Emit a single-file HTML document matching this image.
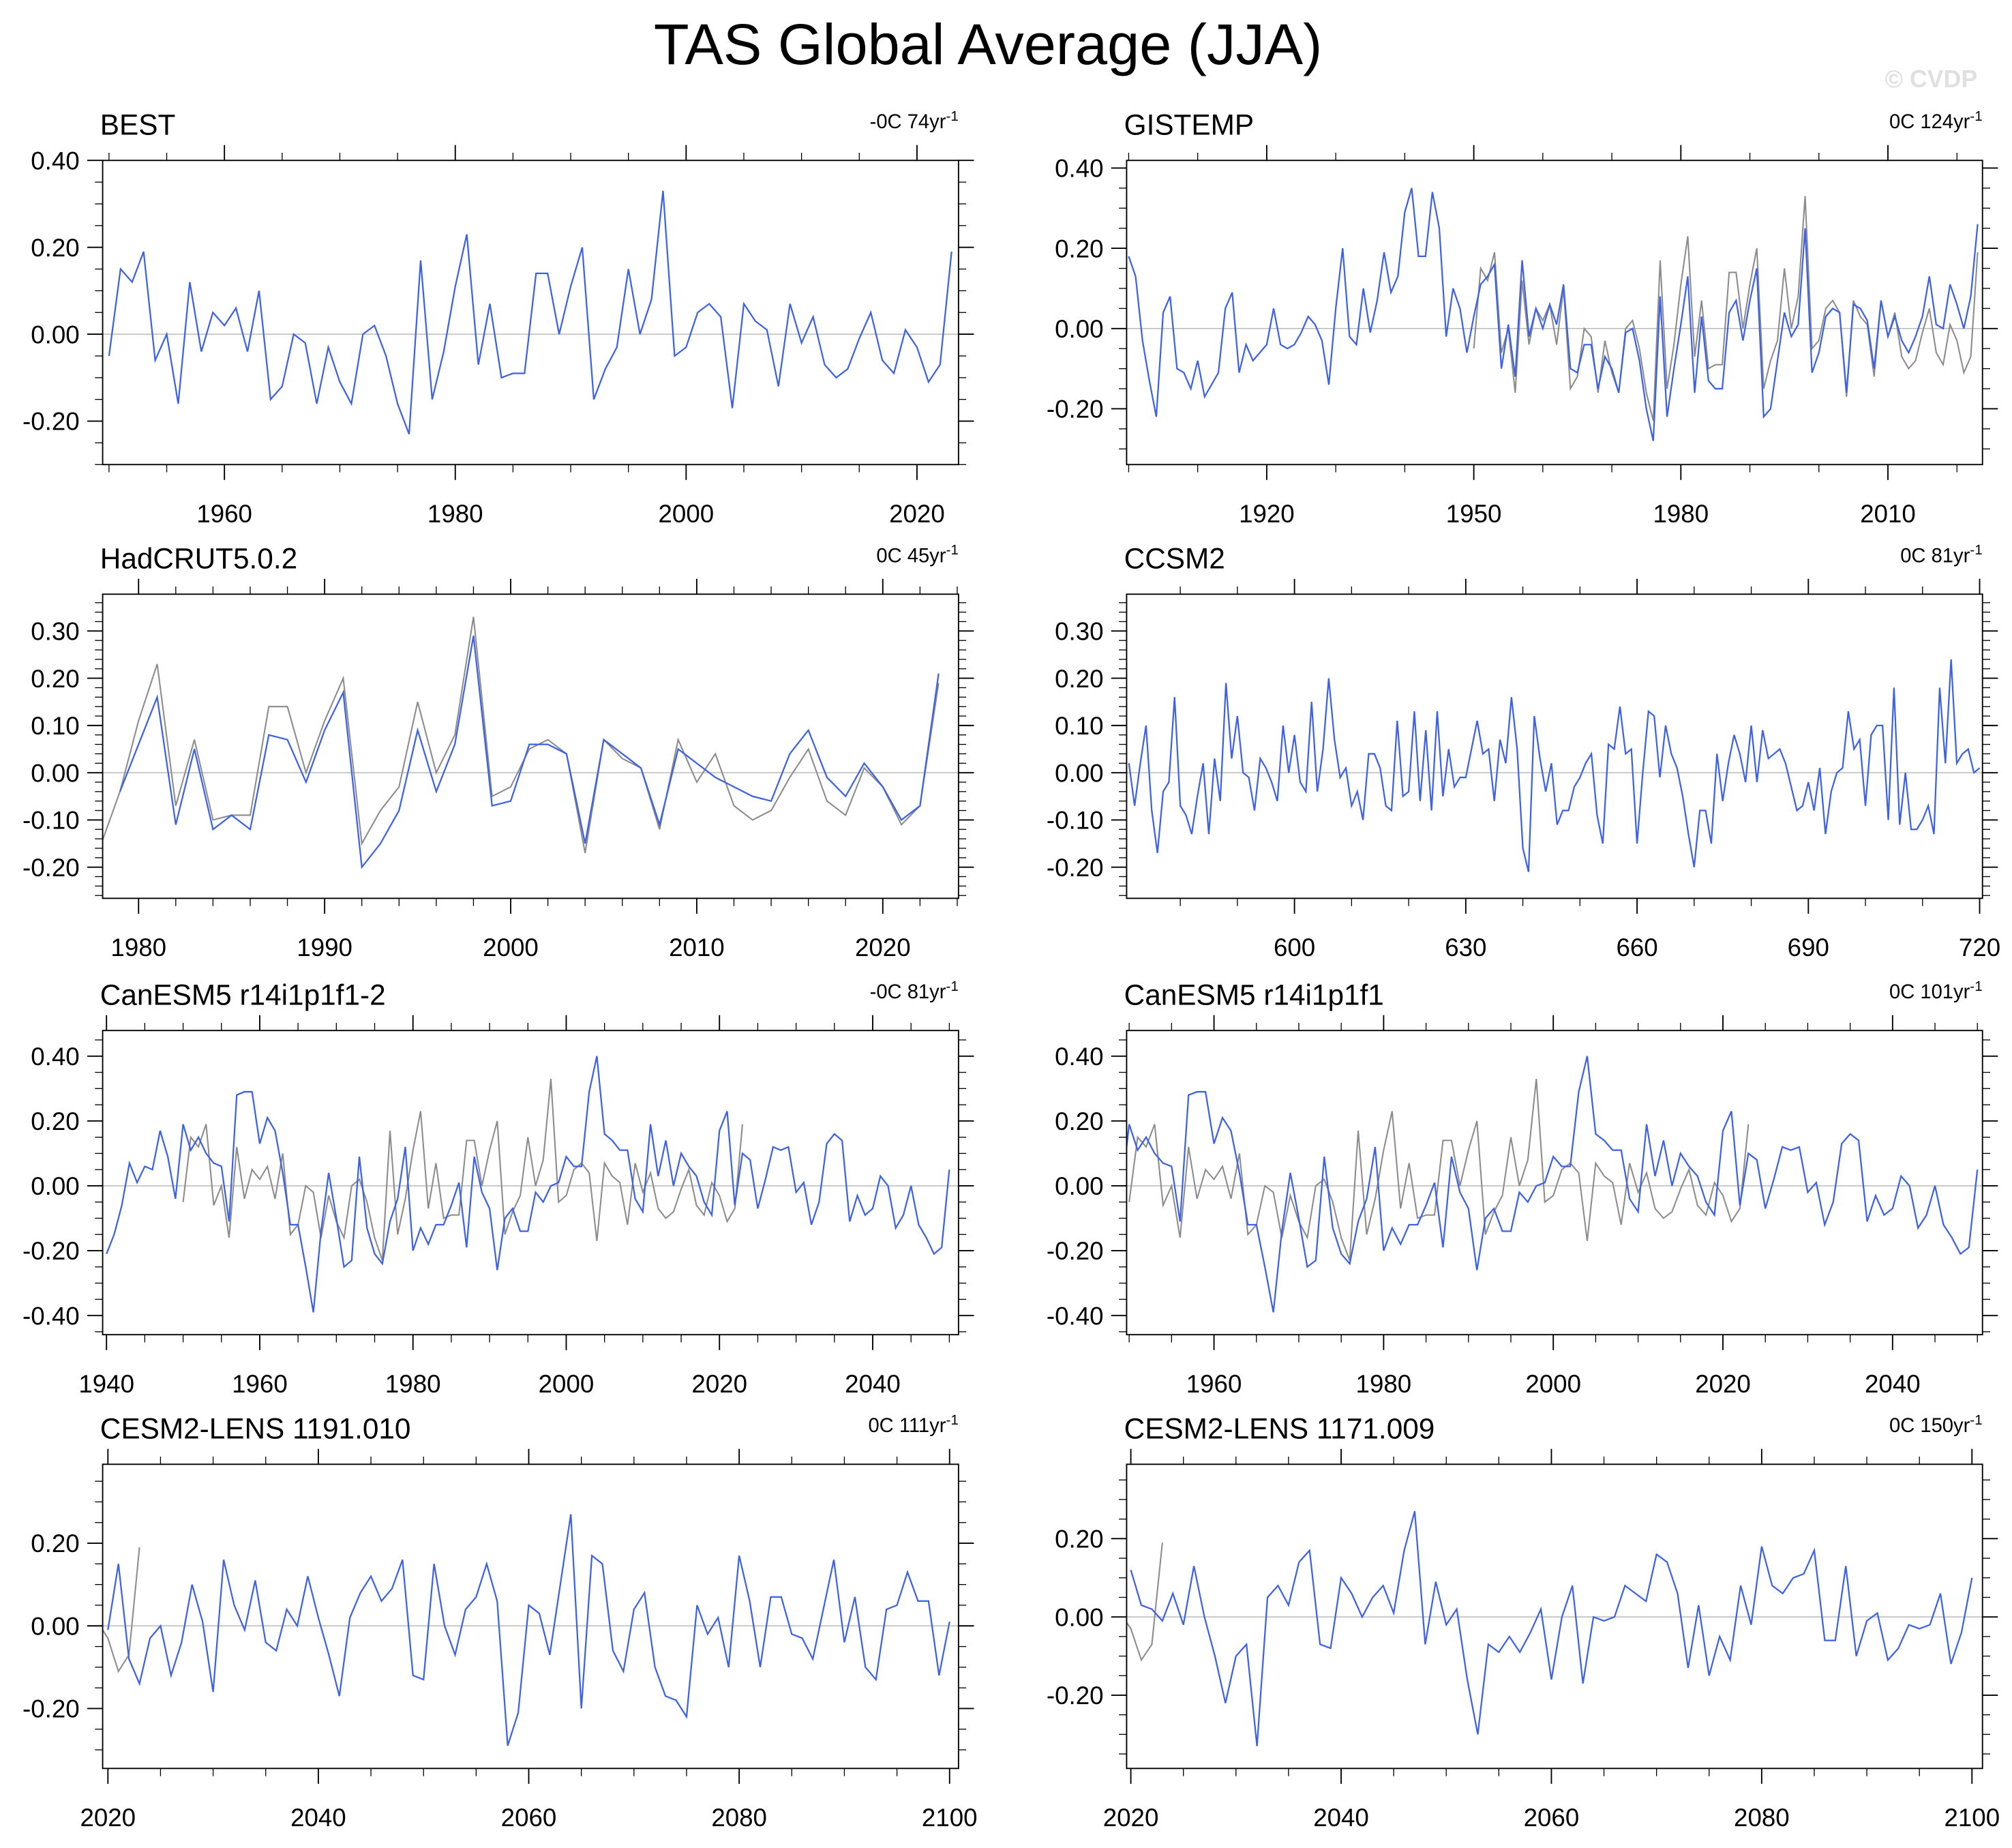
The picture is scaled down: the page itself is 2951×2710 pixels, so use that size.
<!DOCTYPE html>
<html><head><meta charset="utf-8"><style>
html,body{margin:0;padding:0;background:#fff;}
svg{display:block;font-family:"Liberation Sans",sans-serif;}
</style></head><body>
<svg id="chart" width="2951" height="2710" viewBox="0 0 1568 1440" preserveAspectRatio="none" xmlns="http://www.w3.org/2000/svg">
<rect x="0" y="0" width="1568" height="1440" fill="#fff"/>
<text x="770" y="50" font-size="45" text-anchor="middle">TAS Global Average (JJA)</text>
<text x="1541" y="68" font-size="19" font-weight="bold" fill="#e0e0e0" text-anchor="end">© CVDP</text>
<g id="panels"></g>
</svg>
<script>
// ---- data ----
const bestStart = 1950;
const bestValues = [-0.05,0.15,0.12,0.19,-0.06,0.00,-0.16,0.12,-0.04,0.05,0.02,0.06,-0.04,0.10,-0.15,-0.12,0.00,-0.02,-0.16,-0.03,-0.11,-0.16,0.00,0.02,-0.05,-0.16,-0.23,0.17,-0.15,-0.04,0.11,0.23,-0.07,0.07,-0.10,-0.09,-0.09,0.14,0.14,0.00,0.11,0.20,-0.15,-0.08,-0.03,0.15,0.00,0.08,0.33,-0.05,-0.03,0.05,0.07,0.04,-0.17,0.07,0.03,0.01,-0.12,0.07,-0.02,0.04,-0.07,-0.10,-0.08,-0.01,0.05,-0.06,-0.09,0.01,-0.03,-0.11,-0.07,0.19];
const gisStart = 1900;
const gisValues = [0.18,0.13,-0.03,-0.13,-0.22,0.04,0.08,-0.10,-0.11,-0.15,-0.08,-0.17,-0.14,-0.11,0.05,0.09,-0.11,-0.04,-0.08,-0.06,-0.04,0.05,-0.04,-0.05,-0.04,-0.01,0.03,0.01,-0.03,-0.14,0.05,0.20,-0.02,-0.04,0.10,-0.01,0.07,0.19,0.09,0.13,0.29,0.35,0.18,0.18,0.34,0.25,-0.02,0.10,0.05,-0.06,0.03,0.11,0.13,0.16,-0.10,0.01,-0.12,0.17,-0.02,0.05,0.00,0.06,0.01,0.11,-0.10,-0.11,-0.04,-0.04,-0.15,-0.07,-0.10,-0.16,-0.01,0.00,-0.08,-0.20,-0.28,0.08,-0.22,-0.10,0.01,0.13,-0.16,0.03,-0.13,-0.15,-0.15,0.04,0.07,-0.03,0.07,0.15,-0.22,-0.20,-0.08,0.04,-0.02,0.01,0.25,-0.11,-0.06,0.03,0.05,0.04,-0.16,0.06,0.05,0.02,-0.10,0.07,-0.02,0.03,-0.03,-0.06,-0.02,0.03,0.13,0.01,0.00,0.11,0.06,0.00,0.08,0.26];
const hadStart = 1979;
const hadValues = [-0.04,0.06,0.16,-0.11,0.05,-0.12,-0.09,-0.12,0.08,0.07,-0.02,0.09,0.17,-0.20,-0.15,-0.08,0.09,-0.04,0.06,0.29,-0.07,-0.06,0.06,0.06,0.04,-0.15,0.07,0.04,0.01,-0.11,0.05,0.02,-0.01,-0.03,-0.05,-0.06,0.04,0.09,-0.01,-0.05,0.02,-0.03,-0.10,-0.07,0.21];
const ccsmStart = 571;
const ccsmValues = [0.02,-0.07,0.02,0.10,-0.08,-0.17,-0.04,-0.02,0.16,-0.07,-0.09,-0.13,-0.05,0.02,-0.13,0.03,-0.06,0.19,0.03,0.12,0.00,-0.01,-0.08,0.03,0.01,-0.02,-0.06,0.10,0.00,0.08,-0.02,-0.04,0.15,-0.04,0.05,0.20,0.07,-0.01,0.01,-0.07,-0.04,-0.10,0.04,0.04,0.01,-0.07,-0.08,0.11,-0.05,-0.04,0.13,-0.06,0.09,-0.08,0.13,-0.05,0.05,-0.03,-0.01,-0.01,0.05,0.11,0.04,0.05,-0.06,0.07,0.02,0.16,0.05,-0.16,-0.21,0.12,0.03,-0.04,0.02,-0.11,-0.08,-0.08,-0.03,-0.01,0.02,0.04,-0.09,-0.15,0.06,0.05,0.14,0.04,0.05,-0.15,0.00,0.13,0.12,-0.01,0.10,0.04,0.01,-0.05,-0.13,-0.20,-0.08,-0.08,-0.15,0.04,-0.06,0.02,0.08,0.04,-0.02,0.10,-0.02,0.09,0.03,0.04,0.05,0.02,-0.03,-0.08,-0.07,-0.02,-0.08,0.01,-0.13,-0.04,0.00,0.01,0.13,0.05,0.07,-0.07,0.08,0.10,0.10,-0.10,0.18,-0.11,0.00,-0.12,-0.12,-0.10,-0.07,-0.13,0.18,0.02,0.24,0.02,0.04,0.05,0.00,0.01];
const canStart = 1940;
const canValues = [-0.21,-0.15,-0.06,0.07,0.01,0.06,0.05,0.17,0.09,-0.04,0.19,0.11,0.15,0.10,0.07,0.06,-0.11,0.28,0.29,0.29,0.13,0.21,0.17,0.04,-0.12,-0.12,-0.25,-0.39,-0.14,0.04,-0.10,-0.25,-0.23,0.09,-0.13,-0.21,-0.24,-0.11,-0.04,0.12,-0.20,-0.13,-0.18,-0.12,-0.12,-0.06,0.01,-0.19,0.09,-0.02,-0.07,-0.26,-0.10,-0.07,-0.14,-0.14,-0.02,-0.05,0.00,0.01,0.09,0.06,0.06,0.29,0.40,0.16,0.14,0.11,0.11,-0.04,-0.08,0.19,0.03,0.14,0.00,0.10,0.06,0.03,-0.05,-0.09,0.17,0.23,-0.06,0.10,0.08,-0.07,0.02,0.12,0.11,0.12,-0.02,0.01,-0.12,-0.05,0.13,0.16,0.14,-0.11,-0.03,-0.09,-0.07,0.03,0.00,-0.13,-0.09,0.00,-0.12,-0.16,-0.21,-0.19,0.05];
const cesmAStart = 2020;
const cesmAValues = [-0.01,0.15,-0.08,-0.14,-0.03,0.00,-0.12,-0.04,0.10,0.01,-0.16,0.16,0.05,-0.01,0.11,-0.04,-0.06,0.04,0.00,0.12,0.02,-0.07,-0.17,0.02,0.08,0.12,0.06,0.09,0.16,-0.12,-0.13,0.15,0.00,-0.07,0.04,0.07,0.15,0.06,-0.29,-0.21,0.05,0.03,-0.07,0.10,0.27,-0.20,0.17,0.15,-0.06,-0.11,0.04,0.08,-0.10,-0.17,-0.18,-0.22,0.05,-0.02,0.02,-0.10,0.17,0.06,-0.10,0.07,0.07,-0.02,-0.03,-0.08,0.04,0.16,-0.04,0.07,-0.10,-0.13,0.04,0.05,0.13,0.06,0.06,-0.12,0.01];
const cesmBStart = 2020;
const cesmBValues = [0.12,0.03,0.02,-0.01,0.06,-0.02,0.13,0.00,-0.10,-0.22,-0.10,-0.07,-0.33,0.05,0.08,0.03,0.14,0.17,-0.07,-0.08,0.10,0.06,0.00,0.05,0.08,0.01,0.17,0.27,-0.07,0.09,-0.02,0.02,-0.16,-0.30,-0.07,-0.09,-0.05,-0.09,-0.04,0.02,-0.16,0.00,0.08,-0.17,0.00,-0.01,0.00,0.08,0.06,0.04,0.16,0.14,0.06,-0.13,0.03,-0.15,-0.05,-0.11,0.08,-0.02,0.18,0.08,0.06,0.10,0.11,0.17,-0.06,-0.06,0.13,-0.10,-0.01,0.01,-0.11,-0.08,-0.02,-0.03,-0.02,0.06,-0.12,-0.04,0.10];
const panelTitles = ["BEST","GISTEMP","HadCRUT5.0.2","CCSM2","CanESM5 r14i1p1f1-2","CanESM5 r14i1p1f1","CESM2-LENS 1191.010","CESM2-LENS 1171.009"];
const trendLabels = ["-0C 74yr","0C 124yr","0C 45yr","0C 81yr","-0C 81yr","0C 101yr","0C 111yr","0C 150yr"];

// ---- layout ----
const NS = "http://www.w3.org/2000/svg";
const root = document.getElementById('panels');
function mk(tag, attrs, parent){const e=document.createElementNS(NS,tag);for(const k in attrs)e.setAttribute(k,attrs[k]);(parent||root).appendChild(e);return e;}
const panels = [
 {bx:80,by:125,x0:1949.45,x1:2023.6,y0:-0.30,y1:0.40,xl:[1960,1980,2000,2020],xm:5,yl:[-0.2,0,0.2,0.4],ym:0.05,blue:[bestStart,bestValues],gray:false},
 {bx:878,by:125,x0:1899.7,x1:2023.7,y0:-0.339,y1:0.419,xl:[1920,1950,1980,2010],xm:10,yl:[-0.2,0,0.2,0.4],ym:0.05,blue:[gisStart,gisValues],gray:true},
 {bx:80,by:463,x0:1978.07,x1:2024.07,y0:-0.266,y1:0.378,xl:[1980,1990,2000,2010,2020],xm:2,yl:[-0.2,-0.1,0,0.1,0.2,0.3],ym:0.02,blue:[hadStart,hadValues],gray:true},
 {bx:878,by:463,x0:570.6,x1:720.5,y0:-0.266,y1:0.378,xl:[600,630,660,690,720],xm:10,yl:[-0.2,-0.1,0,0.1,0.2,0.3],ym:0.02,blue:[ccsmStart,ccsmValues],gray:false},
 {bx:80,by:803,x0:1939.5,x1:2051.2,y0:-0.459,y1:0.479,xl:[1940,1960,1980,2000,2020,2040],xm:5,yl:[-0.4,-0.2,0,0.2,0.4],ym:0.05,blue:[canStart,canValues],gray:true},
 {bx:878,by:803,x0:1949.7,x1:2050.6,y0:-0.459,y1:0.479,xl:[1960,1980,2000,2020,2040],xm:5,yl:[-0.4,-0.2,0,0.2,0.4],ym:0.05,blue:[canStart,canValues],gray:true},
 {bx:80,by:1141,x0:2019.5,x1:2100.85,y0:-0.345,y1:0.391,xl:[2020,2040,2060,2080,2100],xm:5,yl:[-0.2,0,0.2],ym:0.05,blue:[cesmAStart,cesmAValues],gray:true},
 {bx:878,by:1141,x0:2019.6,x1:2101.0,y0:-0.387,y1:0.39,xl:[2020,2040,2060,2080,2100],xm:5,yl:[-0.2,0,0.2],ym:0.05,blue:[cesmBStart,cesmBValues],gray:true}
];
const W=667,H=237;
panels.forEach((p,i)=>{
 const g=mk('g',{});
 
 
 const sx=v=>p.bx+(v-p.x0)/(p.x1-p.x0)*W;
 const sy=v=>p.by+H-(v-p.y0)/(p.y1-p.y0)*H;
 const t=mk('text',{x:p.bx-2,y:p.by-20,'font-size':22.5},g);t.textContent=panelTitles[i];
 
 
 const tr=mk('text',{x:p.bx+W,y:p.by-25,'font-size':15.5,'text-anchor':'end'},g);
 
 
 tr.appendChild(document.createTextNode(trendLabels[i]));
 const sup=mk('tspan',{dy:-6,'font-size':11},tr);sup.textContent='-1';
 const clipId='clip'+i;
 const cp=mk('clipPath',{id:clipId},g);mk('rect',{x:p.bx,y:p.by,width:W,height:H},cp);
 const zl=mk('line',{x1:p.bx,x2:p.bx+W,y1:sy(0),y2:sy(0),stroke:'#bbb','stroke-width':0.8},g);
 
 
 const eps=1e-6;
 const firstM=Math.ceil(p.x0/p.xm)*p.xm;
 for(let v=firstM; v<=p.x1+eps; v+=p.xm){
  const major=p.xl.some(l=>Math.abs(l-v)<eps);
  const L=major?12:6, x=sx(v);
  mk('line',{x1:x,x2:x,y1:p.by,y2:p.by-L,stroke:'#000','stroke-width':major?1:0.7},g);
  mk('line',{x1:x,x2:x,y1:p.by+H,y2:p.by+H+L,stroke:'#000','stroke-width':major?1:0.7},g);
 }
 p.xl.forEach(v=>{const tl=mk('text',{x:sx(v),y:p.by+H+45,'font-size':19.5,'text-anchor':'middle'},g);tl.textContent=String(v);
  
  });
 const firstY=Math.ceil((p.y0-eps)/p.ym);
 for(let k=firstY; k*p.ym<=p.y1+eps; k++){
  const v=k*p.ym;
  const major=p.yl.some(l=>Math.abs(l-v)<eps);
  const L=major?12:6, y=sy(v);
  mk('line',{x1:p.bx,x2:p.bx-L,y1:y,y2:y,stroke:'#000','stroke-width':major?1:0.7},g);
  mk('line',{x1:p.bx+W,x2:p.bx+W+L,y1:y,y2:y,stroke:'#000','stroke-width':major?1:0.7},g);
 }
 p.yl.forEach(v=>{const tl=mk('text',{x:p.bx-18,y:sy(v)+7,'font-size':19.5,'text-anchor':'end'},g);tl.textContent=v.toFixed(2);
  
  });
 if(p.gray){
  const pts=bestValues.map((v,j)=>sx(bestStart+j).toFixed(2)+','+sy(v).toFixed(2)).join(' ');
  const gl=mk('polyline',{points:pts,fill:'none',stroke:'#8c8c8c','stroke-width':1.1,'clip-path':'url(#'+clipId+')'},g);
  
  
 }
 const [st,vals]=p.blue;
 const pts=vals.map((v,j)=>sx(st+j).toFixed(2)+','+sy(v).toFixed(2)).join(' ');
 const bl=mk('polyline',{points:pts,fill:'none',stroke:'#3d62e3','stroke-width':1.2,'clip-path':'url(#'+clipId+')'},g);
 
 
 const fr=mk('rect',{x:p.bx,y:p.by,width:W,height:H,fill:'none',stroke:'#000','stroke-width':1},g);
 
 
});
</script>
</body></html>
